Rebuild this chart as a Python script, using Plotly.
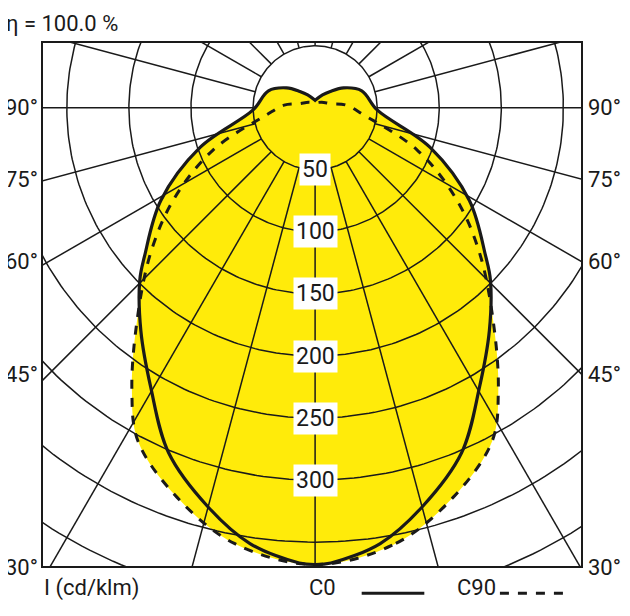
import numpy as np
import plotly.graph_objects as go

# luminous intensity (cd/klm) against angle from nadir (deg)
c0_angles = [0, 2, 8.5, 15, 23, 30.5, 38, 45.5, 49, 59, 71, 88, 110, 125, 137, 150, 180]
c0_values = [368, 367, 355, 333, 302, 261, 228, 198, 182, 145, 98, 50, 40, 28, 18, 12, 6]
c90_angles = [0, 10.5, 19.5, 28, 33, 40, 48.5, 57, 67.5, 82, 95, 105, 130, 180]
c90_values = [368, 357, 333, 304, 271, 223, 177, 136, 89, 39, 25, 13, 7, 4]
ring_values = [50, 100, 150, 200, 250, 300]
side_labels = ["90°", "75°", "60°", "45°", "30°"]
side_angles = [90, 75, 60, 45, 30]

YELLOW = "#FFEB0A"
INK = "#1a1a1a"
FONT = "Liberation Sans Narrow, Roboto, Arial Narrow, sans-serif"


def closed_curve(angles, values):
    a = np.radians(np.array(angles, float))
    v = np.array(values, float)
    # right half then mirrored left half
    x = np.concatenate([v * np.sin(a), -(v * np.sin(a))[::-1]])
    y = np.concatenate([-v * np.cos(a), (-v * np.cos(a))[::-1]])
    return x, y


fig = go.Figure()

x0, y0 = closed_curve(c0_angles, c0_values)
x90, y90 = closed_curve(c90_angles, c90_values)
for x, y in [(x90, y90), (x0, y0)]:
    fig.add_trace(go.Scatter(x=x, y=y, mode="lines", fill="toself", fillcolor=YELLOW,
                             line=dict(width=0, color=YELLOW, shape="spline"), hoverinfo="skip"))

# grid: circles and radial lines
t = np.linspace(0, 2 * np.pi, 361)
for r in range(50, 701, 50):
    fig.add_trace(go.Scatter(x=r * np.sin(t), y=r * np.cos(t), mode="lines",
                             line=dict(color=INK, width=1.5), hoverinfo="skip"))
for ang in range(0, 360, 15):
    a = np.radians(ang)
    fig.add_trace(go.Scatter(x=[50 * np.sin(a), 900 * np.sin(a)], y=[-50 * np.cos(a), -900 * np.cos(a)],
                             mode="lines", line=dict(color=INK, width=1.5), hoverinfo="skip"))

fig.add_trace(go.Scatter(x=x90, y=y90, mode="lines",
                         line=dict(color=INK, width=3, dash="dash", shape="spline"), hoverinfo="skip"))
fig.add_trace(go.Scatter(x=x0, y=y0, mode="lines",
                         line=dict(color=INK, width=3.2, shape="spline"), hoverinfo="skip"))

for r in ring_values:
    fig.add_annotation(x=0, y=-r, text=str(r), showarrow=False, bgcolor="white",
                       font=dict(size=23, color=INK, family=FONT), borderpad=2)

xr = [-220, 215]
yr = [-370, 53]
for lab, ang in zip(side_labels, side_angles):
    yy = -xr[1] / np.tan(np.radians(ang)) if ang != 90 else 0
    yy = max(yy, yr[0])
    for side, xa in [(-1, "right"), (1, "left")]:
        fig.add_annotation(x=0 if side < 0 else 1, xref="paper", y=yy, yref="y", text=lab,
                           showarrow=False, xanchor=xa, xshift=-2 if side < 0 else 4,
                           font=dict(size=22, color=INK, family=FONT))

fig.add_annotation(x=-0.07, xref="paper", y=1.0, yref="paper", yanchor="bottom", yshift=4,
                   xanchor="left", text="η = 100.0 %", showarrow=False,
                   font=dict(size=22, color=INK, family=FONT))
fig.add_annotation(x=0.0, xref="paper", y=0, yref="paper", yanchor="top", yshift=-6,
                   xanchor="left", text="I (cd/klm)", showarrow=False,
                   font=dict(size=22, color=INK, family=FONT))
fig.add_annotation(x=0.49, xref="paper", y=0, yref="paper", yanchor="top", yshift=-6,
                   xanchor="left", text="C0", showarrow=False,
                   font=dict(size=22, color=INK, family=FONT))
fig.add_annotation(x=0.765, xref="paper", y=0, yref="paper", yanchor="top", yshift=-6,
                   xanchor="left", text="C90", showarrow=False,
                   font=dict(size=22, color=INK, family=FONT))
fig.add_shape(type="line", xref="paper", yref="paper", x0=0.592, x1=0.708, y0=-0.05, y1=-0.05,
              line=dict(color=INK, width=3))
fig.add_shape(type="line", xref="paper", yref="paper", x0=0.848, x1=0.975, y0=-0.05, y1=-0.05,
              line=dict(color=INK, width=3, dash="dash"))
fig.add_shape(type="rect", xref="paper", yref="paper", x0=0, x1=1, y0=0, y1=1,
              line=dict(color=INK, width=2))

# page body adds 8px offset, so the figure is 8px smaller and shifted
fig.update_layout(width=622, height=608, margin=dict(l=34, r=48, t=34, b=49),
                  showlegend=False, plot_bgcolor="white", paper_bgcolor="white",
                  xaxis=dict(range=xr, visible=False, fixedrange=True),
                  yaxis=dict(range=yr, visible=False, fixedrange=True))
fig.write_html("out.html")
